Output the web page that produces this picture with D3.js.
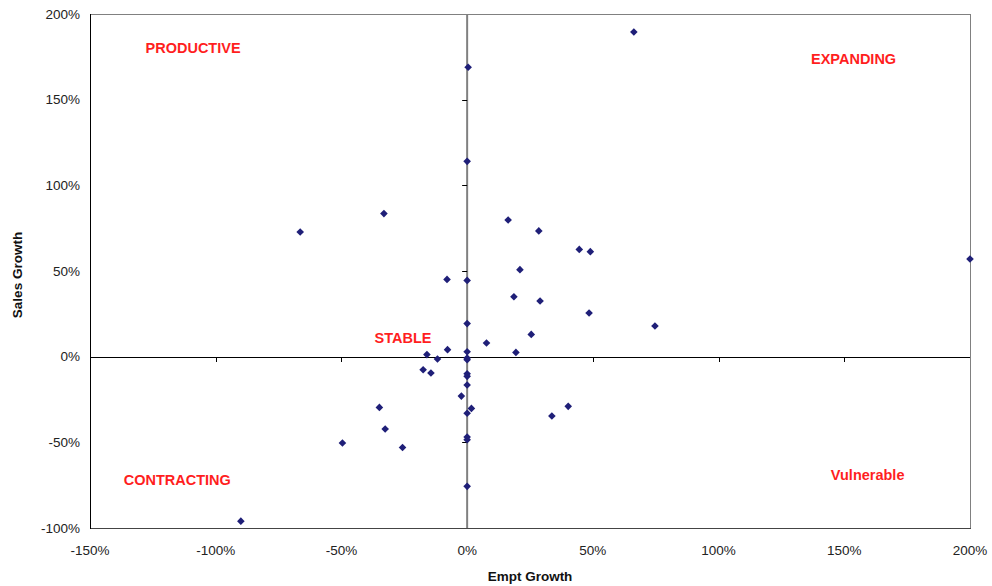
<!DOCTYPE html>
<html>
<head>
<meta charset="utf-8">
<script src="https://cdn.jsdelivr.net/npm/d3@7"></script>
<style>
  html, body { margin: 0; padding: 0; background: #fff; }
  svg { display: block; font-family: "Liberation Sans", Arial, sans-serif; }
</style>
</head>
<body>
<svg id="chart" width="992" height="586"></svg>
<script>
// Employment growth (%) for each firm
const emptGrowth = [66.3, 0.4, 0, -33.1, -66.4, 16.3, 28.5, 44.6, 49, 200,
  21, -8, 0, 18.6, 29, 48.5, 74.7, 0, 25.5, 7.7,
  -7.8, 19.4, 0, -16, -11.8, 0, 0, -17.5, -14.4, 0,
  0, 0, -2.3, 1.7, 0, -34.9, 33.7, 40.2, -32.6, -49.6,
  -25.7, 0, 0, 0, -90];
// Sales growth (%) for each firm
const salesGrowth = [189.5, 168.9, 114, 83.5, 72.8, 79.8, 73.4, 62.6, 61.3, 57,
  50.8, 45.1, 44.5, 35, 32.5, 25.5, 17.9, 19.3, 13, 8,
  4.1, 2.5, 2.9, 1.2, -1.4, -0.8, -1.8, -7.6, -9.5, -10,
  -11.5, -16.5, -23, -30.2, -33, -29.6, -34.6, -29, -42.2, -50.4,
  -53, -46.9, -48.5, -75.7, -96];

const xTicks = [-150, -100, -50, 0, 50, 100, 150, 200];
const yTicks = [-100, -50, 0, 50, 100, 150, 200];

const quadrantNames = ["PRODUCTIVE", "EXPANDING", "STABLE", "CONTRACTING", "Vulnerable"];
const quadrantX = [-109, 153.7, -25.5, -115.3, 159.3];
const quadrantY = [180, 174, 11, -72, -69];

const xTitle = "Empt Growth";
const yTitle = "Sales Growth";

(function () {
const svg = d3.select("#chart");
const pL = 90, pR = 970, pT = 14, pB = 528;

const x = d3.scaleLinear().domain([-150, 200]).range([pL, pR]);
const y = d3.scaleLinear().domain([-100, 200]).range([pB, pT]);

// plot frame
svg.append("line").attr("x1", pL).attr("x2", pR).attr("y1", pT + 0.5).attr("y2", pT + 0.5)
  .attr("stroke", "#808080").attr("stroke-width", 1);
svg.append("line").attr("x1", pR + 0.5).attr("x2", pR + 0.5).attr("y1", pT).attr("y2", pB + 1)
  .attr("stroke", "#808080").attr("stroke-width", 1);
svg.append("line").attr("x1", pL).attr("x2", pR + 1).attr("y1", pB + 0.5).attr("y2", pB + 0.5)
  .attr("stroke", "#444").attr("stroke-width", 1);
svg.append("line").attr("x1", pL + 0.5).attr("x2", pL + 0.5).attr("y1", pT).attr("y2", pB + 1)
  .attr("stroke", "#000").attr("stroke-width", 1);

// vertical zero axis (gray) with ticks pointing left
svg.append("line").attr("x1", x(0)).attr("x2", x(0)).attr("y1", pT).attr("y2", pB)
  .attr("stroke", "#808080").attr("stroke-width", 2);
svg.append("g").selectAll("line").data(yTicks.filter(d => d > -100 && d < 200)).join("line")
  .attr("x1", x(0) - 5).attr("x2", x(0))
  .attr("y1", d => Math.round(y(d)) + 0.5).attr("y2", d => Math.round(y(d)) + 0.5)
  .attr("stroke", "#000").attr("stroke-width", 1);

// horizontal zero axis (black) with ticks pointing down
svg.append("line").attr("x1", pL).attr("x2", pR).attr("y1", Math.round(y(0)) + 0.5).attr("y2", Math.round(y(0)) + 0.5)
  .attr("stroke", "#000").attr("stroke-width", 1.2);
svg.append("g").selectAll("line").data(xTicks.filter(d => d > -150 && d < 200 && d !== 0)).join("line")
  .attr("x1", d => Math.round(x(d)) + 0.5).attr("x2", d => Math.round(x(d)) + 0.5)
  .attr("y1", Math.round(y(0))).attr("y2", Math.round(y(0)) + 5)
  .attr("stroke", "#000").attr("stroke-width", 1);

// tick labels
svg.append("g").selectAll("text").data(yTicks).join("text")
  .attr("x", 80).attr("y", d => y(d)).attr("dy", "0.35em")
  .attr("text-anchor", "end").attr("font-size", "13.5px").attr("fill", "#222")
  .text(d => d + "%");
svg.append("g").selectAll("text").data(xTicks).join("text")
  .attr("x", d => x(d)).attr("y", 550).attr("dy", "0.35em")
  .attr("text-anchor", "middle").attr("font-size", "13.5px").attr("fill", "#222")
  .text(d => d + "%");

// axis titles
svg.append("text").attr("x", (pL + pR) / 2).attr("y", 576).attr("dy", "0.35em")
  .attr("text-anchor", "middle").attr("font-size", "13.5px").attr("font-weight", "bold").attr("fill", "#111")
  .text(xTitle);
svg.append("text").attr("transform", `translate(17,275) rotate(-90)`).attr("dy", "0.35em")
  .attr("text-anchor", "middle").attr("font-size", "13.5px").attr("font-weight", "bold").attr("fill", "#111")
  .text(yTitle);

// quadrant labels
svg.append("g").selectAll("text").data(quadrantNames).join("text")
  .attr("x", (d, i) => x(quadrantX[i])).attr("y", (d, i) => y(quadrantY[i])).attr("dy", "0.35em")
  .attr("text-anchor", "middle").attr("font-size", "14.5px").attr("font-weight", "bold").attr("fill", "#ff1e1e")
  .text(d => d);

// points
const pts = emptGrowth.map((v, i) => [v, salesGrowth[i]]);
const diamond = d3.symbol().type(d3.symbolSquare).size(29);
svg.append("g").selectAll("path").data(pts).join("path")
  .attr("d", diamond)
  .attr("transform", d => `translate(${x(d[0])},${y(d[1])}) rotate(45)`)
  .attr("fill", "#1f1f78");
})();
</script>
</body>
</html>
